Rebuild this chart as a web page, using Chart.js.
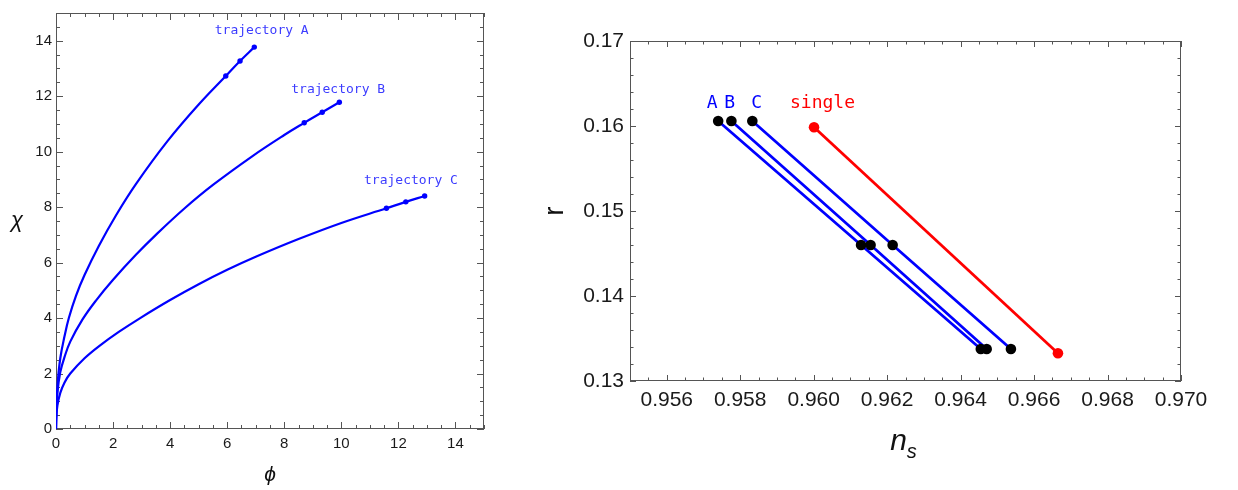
<!DOCTYPE html>
<html>
<head>
<meta charset="utf-8">
<script src="https://cdn.jsdelivr.net/npm/chart.js@4.4.0/dist/chart.umd.min.js"></script>
<style>
  body { margin: 0; background: #fff; }
  #left { position: absolute; left: 0; top: 0; width: 500px; height: 490px; }
  #right { position: absolute; left: 520px; top: 0; width: 718px; height: 490px; }
</style>
</head>
<body>
<div id="left"><canvas id="trajChart"></canvas></div>
<div id="right"><canvas id="nsrChart"></canvas></div>
<script>
// ---- left panel: trajectories in field space (phi, chi) ----
var phiA = [0, 0.01, 0.05, 0.15, 0.3, 0.45, 0.7, 1.0, 1.5, 2.1, 2.8, 3.9, 5.0, 5.95, 6.45, 6.95];
var chiA = [0, 0.6, 1.55, 2.55, 3.35, 4.0, 4.8, 5.55, 6.6, 7.7, 8.83, 10.37, 11.7, 12.73, 13.27, 13.77];
var phiB = [0, 0.01, 0.05, 0.15, 0.3, 0.5, 0.93, 1.4, 2.0, 2.8, 3.5, 4.5, 5.5, 6.9, 8.0, 8.70, 9.33, 9.93];
var chiB = [0, 0.5, 1.3, 2.05, 2.6, 3.15, 3.95, 4.63, 5.38, 6.28, 7.0, 7.95, 8.8, 9.85, 10.6, 11.04, 11.42, 11.78];
var phiC = [0, 0.01, 0.05, 0.15, 0.3, 0.5, 1.0, 1.5, 2.2, 2.95, 4.0, 5.0, 6.0, 7.0, 8.5, 10.0, 11.58, 12.26, 12.92];
var chiC = [0, 0.4, 0.85, 1.3, 1.68, 2.0, 2.55, 2.98, 3.5, 4.0, 4.65, 5.22, 5.74, 6.21, 6.85, 7.43, 7.96, 8.19, 8.40];
var trajNames = ['trajectory A', 'trajectory B', 'trajectory C'];
var trajNamePhi = [7.21, 9.89, 12.44];
var trajNameChi = [14.35, 12.24, 8.95];

// ---- right panel: r vs n_s ----
var rPts = [0.16059, 0.14600, 0.13376];
var nsA = [0.95740, 0.96129, 0.96455];
var nsB = [0.95776, 0.96155, 0.96471];
var nsC = [0.95833, 0.96215, 0.96537];
var nsSingle = [0.96001, 0.96665];
var rSingle = [0.15985, 0.13326];
var pointNames = ['A', 'B', 'C', 'single'];
var pointNameNs = [0.95724, 0.95771, 0.95845, 0.96024];
var pointNameR = 0.16267;

var BLUE = '#0000ff';
var RED = '#ff0000';

function pairs(xs, ys) {
  return xs.map(function (x, i) { return { x: x, y: ys[i] }; });
}

// frame with inward ticks on all four sides, taken from the scales' ticks
var frameTicks = {
  id: 'frameTicks',
  beforeDatasetsDraw: function (chart) {
    var ctx = chart.ctx, a = chart.chartArea;
    var sx = chart.scales.x, sy = chart.scales.y;
    var big = chart.config.options.tickMajor, small = chart.config.options.tickMinor;
    ctx.save();
    ctx.strokeStyle = '#555';
    ctx.lineWidth = 1;
    ctx.strokeRect(Math.round(a.left) + 0.5, Math.round(a.top) + 0.5,
      Math.round(a.right - a.left) - 1, Math.round(a.bottom - a.top) - 1);
    ctx.beginPath();
    sx.ticks.forEach(function (t) {
      var p = Math.round(sx.getPixelForValue(t.value)) + 0.5;
      var len = t.label !== '' ? big : small;
      ctx.moveTo(p, a.bottom); ctx.lineTo(p, a.bottom - len);
      ctx.moveTo(p, a.top); ctx.lineTo(p, a.top + len);
    });
    sy.ticks.forEach(function (t) {
      var p = Math.round(sy.getPixelForValue(t.value)) + 0.5;
      var len = t.label !== '' ? big : small;
      ctx.moveTo(a.left, p); ctx.lineTo(a.left + len, p);
      ctx.moveTo(a.right, p); ctx.lineTo(a.right - len, p);
    });
    ctx.stroke();
    ctx.restore();
  }
};

function axisTicks(size, pad, step, cb) {
  return {
    stepSize: step, autoSkip: false, maxRotation: 0, minRotation: 0, padding: pad,
    color: '#1a1a1a', font: { family: 'Liberation Sans', size: size },
    callback: cb
  };
}

// ---------------- left chart ----------------
function trajSet(xs, ys) {
  var n = xs.length;
  return {
    data: pairs(xs, ys),
    borderColor: BLUE,
    borderWidth: 2.2,
    tension: 0.4,
    pointRadius: function (c) { return c.dataIndex >= n - 3 ? 2.7 : 0; },
    pointBackgroundColor: BLUE,
    pointBorderWidth: 0,
    fill: false
  };
}

var leftText = {
  id: 'leftText',
  afterDatasetsDraw: function (chart) {
    var ctx = chart.ctx, a = chart.chartArea, sx = chart.scales.x, sy = chart.scales.y;
    ctx.save();
    ctx.textAlign = 'center';
    ctx.textBaseline = 'middle';
    ctx.fillStyle = '#3c3cff';
    ctx.font = '13px "DejaVu Sans Mono"';
    trajNames.forEach(function (s, i) {
      ctx.fillText(s, sx.getPixelForValue(trajNamePhi[i]), sy.getPixelForValue(trajNameChi[i]));
    });
    ctx.fillStyle = '#111';
    ctx.font = 'italic 22px "Liberation Sans", "DejaVu Sans"';
    ctx.fillText('\u03C7', a.left - 39, (a.top + a.bottom) / 2);
    ctx.font = 'italic 21px "Liberation Sans", "DejaVu Sans"';
    ctx.fillText('\u03D5', (a.left + a.right) / 2, a.bottom + 46);
    ctx.restore();
  }
};

function evenLabel(v) { return v % 2 === 0 ? String(v) : ''; }

new Chart('trajChart', {
  type: 'line',
  data: {
    datasets: [trajSet(phiA, chiA), trajSet(phiB, chiB), trajSet(phiC, chiC)]
  },
  options: {
    responsive: true,
    maintainAspectRatio: false,
    animation: false,
    tickMajor: 7,
    tickMinor: 4,
    layout: { padding: { top: 1, right: 16, left: 0, bottom: 0 } },
    plugins: { legend: { display: false }, tooltip: { enabled: false } },
    scales: {
      x: {
        type: 'linear', min: 0, max: 15,
        grid: { display: false, drawTicks: false }, border: { display: false },
        ticks: axisTicks(15, 6, 0.5, evenLabel),
        afterFit: function (s) { s.height = 61; }
      },
      y: {
        type: 'linear', min: 0, max: 15,
        grid: { display: false, drawTicks: false }, border: { display: false },
        ticks: axisTicks(15, 4, 0.5, evenLabel),
        afterFit: function (s) { s.width = 56; }
      }
    }
  },
  plugins: [frameTicks, leftText]
});

// ---------------- right chart ----------------
function nsLine(xs, ys, color) {
  return { data: pairs(xs, ys), borderColor: color, borderWidth: 2.8, pointRadius: 0, tension: 0, order: 1, fill: false };
}
function nsDots(xs, ys, color) {
  return { data: pairs(xs, ys), showLine: false, pointRadius: 5.3, pointBackgroundColor: color, pointBorderWidth: 0, order: 0 };
}

var rightText = {
  id: 'rightText',
  afterDatasetsDraw: function (chart) {
    var ctx = chart.ctx, a = chart.chartArea, sx = chart.scales.x, sy = chart.scales.y;
    ctx.save();
    ctx.textAlign = 'center';
    ctx.textBaseline = 'middle';
    ctx.font = '18px "DejaVu Sans Mono"';
    pointNames.forEach(function (s, i) {
      ctx.fillStyle = s === 'single' ? RED : BLUE;
      ctx.fillText(s, sx.getPixelForValue(pointNameNs[i]), sy.getPixelForValue(pointNameR));
    });
    ctx.fillStyle = '#111';
    // y title, rotated
    ctx.save();
    ctx.translate(a.left - 75, (a.top + a.bottom) / 2);
    ctx.rotate(-Math.PI / 2);
    ctx.font = '28px "Liberation Sans"';
    ctx.fillText('r', 0, 0);
    ctx.restore();
    // x title n_s
    ctx.textAlign = 'left';
    ctx.textBaseline = 'alphabetic';
    var cx = (a.left + a.right) / 2 - 2;
    ctx.font = 'italic 30px "Liberation Sans"';
    var wn = ctx.measureText('n').width;
    ctx.font = 'italic 20px "Liberation Sans"';
    var ws = ctx.measureText('s').width;
    var x0 = cx - (wn + ws) / 2;
    ctx.font = 'italic 30px "Liberation Sans"';
    ctx.fillText('n', x0, a.bottom + 69);
    ctx.font = 'italic 20px "Liberation Sans"';
    ctx.fillText('s', x0 + wn, a.bottom + 77);
    ctx.restore();
  }
};

new Chart('nsrChart', {
  type: 'line',
  data: {
    datasets: [
      nsLine(nsA, rPts, BLUE), nsLine(nsB, rPts, BLUE), nsLine(nsC, rPts, BLUE), nsLine(nsSingle, rSingle, RED),
      nsDots(nsA, rPts, '#000'), nsDots(nsB, rPts, '#000'), nsDots(nsC, rPts, '#000'), nsDots(nsSingle, rSingle, RED)
    ]
  },
  options: {
    responsive: true,
    maintainAspectRatio: false,
    animation: false,
    tickMajor: 6,
    tickMinor: 3.5,
    layout: { padding: { top: 41, right: 57, left: 0, bottom: 0 } },
    plugins: { legend: { display: false }, tooltip: { enabled: false } },
    scales: {
      x: {
        type: 'linear', min: 0.955, max: 0.970,
        grid: { display: false, drawTicks: false }, border: { display: false },
        ticks: axisTicks(21, 7, 0.0005, function (v) {
          return Math.round(v * 10000) % 20 === 0 ? v.toFixed(3) : '';
        }),
        afterFit: function (s) { s.height = 109; }
      },
      y: {
        type: 'linear', min: 0.13, max: 0.17,
        grid: { display: false, drawTicks: false }, border: { display: false },
        ticks: axisTicks(21, 6, 0.002, function (v) {
          return Math.round(v * 1000) % 10 === 0 ? v.toFixed(2) : '';
        }),
        afterFit: function (s) { s.width = 110; }
      }
    }
  },
  plugins: [frameTicks, rightText]
});
</script>
</body>
</html>
